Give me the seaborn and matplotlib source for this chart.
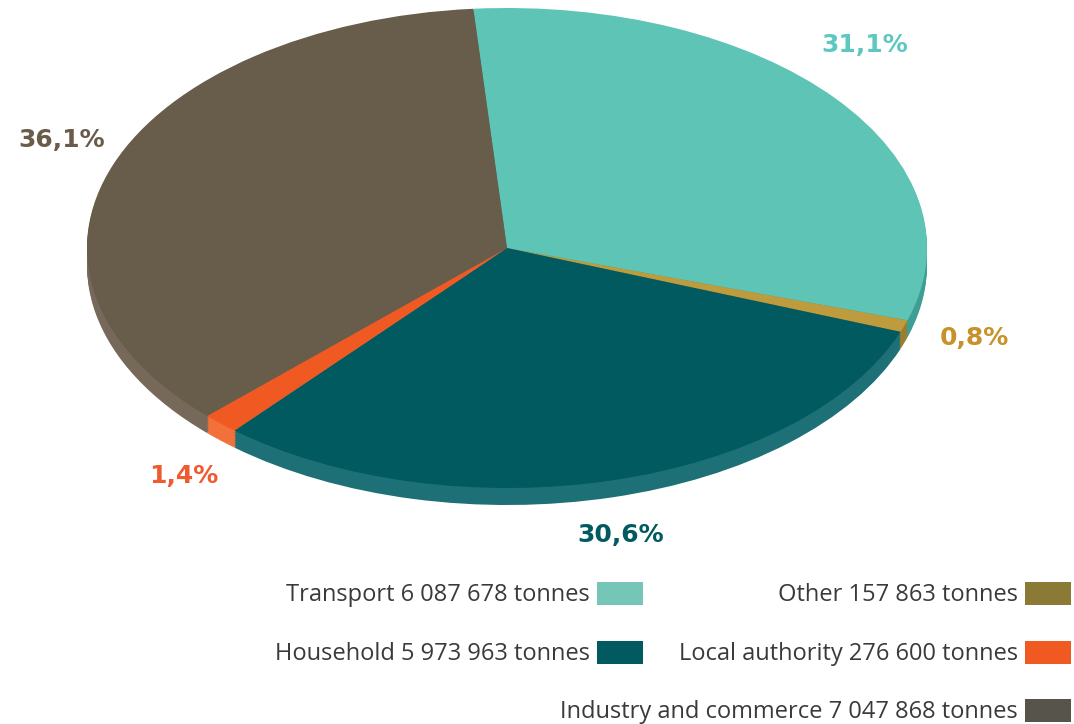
import numpy as np
import matplotlib
matplotlib.use("Agg")
import matplotlib.pyplot as plt
import seaborn as sns
from matplotlib.patches import Rectangle

sns.set_theme(style="white")
plt.rcParams['font.family'] = ['Open Sans', 'DejaVu Sans']

# ---- data ----
categories = ["Transport", "Other", "Household", "Local authority", "Industry and commerce"]
tonnes = [6087678, 157863, 5973963, 276600, 7047868]
pct_labels = ["31,1%", "0,8%", "30,6%", "1,4%", "36,1%"]
legend_labels = ["Transport 6 087 678 tonnes", "Other 157 863 tonnes",
                 "Household 5 973 963 tonnes", "Local authority 276 600 tonnes",
                 "Industry and commerce 7 047 868 tonnes"]

# ---- styles ----
top_colors = ["#5EC4B6", "#BE9B3C", "#005A60", "#F05A22", "#685C4B"]
side_colors = ["#3F9E94", "#9C7F2E", "#1D7076", "#F2713A", "#76695A"]
legend_colors = ["#76C6B8", "#8B7A35", "#005A60", "#F05A22", "#57554B"]
label_colors = ["#5EC8C0", "#C8922A", "#005A60", "#F05A30", "#6A5C4A"]
label_dist = [1.20, 1.175, 1.227, 1.224, 1.152]
label_angle_shift = [6.3, 0.3, -1.8, 4.0, -2.6]
startangle = 94.6

W, H = 1074, 724
fig = plt.figure(figsize=(W / 100, H / 100), dpi=100)

# ellipse: center (507,248) px, rx=420, ry=240, depth ~17 px
cx, cy, rx, ry = 507, 248, 420, 240
ymin = -1.12
ax = fig.add_axes([(cx - rx) / W, (H - (cy - ymin * ry)) / H, 2 * rx / W, (1 - ymin) * ry / H])

depth = 17 / ry
nsteps = 10
for k in range(nsteps, 0, -1):
    ax.pie(tonnes, colors=side_colors, startangle=startangle, counterclock=False,
           center=(0, -depth * k / nsteps), radius=1,
           wedgeprops=dict(linewidth=0))
wedges, _ = ax.pie(tonnes, colors=top_colors, startangle=startangle, counterclock=False,
                   center=(0, 0), radius=1, wedgeprops=dict(linewidth=0))
ax.set_aspect('auto')
ax.set_xlim(-1, 1)
ax.set_ylim(ymin, 1)
ax.axis('off')

for w, lab, col, d, s in zip(wedges, pct_labels, label_colors, label_dist, label_angle_shift):
    ang = np.deg2rad((w.theta1 + w.theta2) / 2 + s)
    ax.text(d * np.cos(ang), d * np.sin(ang), lab, color=col, fontsize=18,
            fontweight='bold', family='DejaVu Sans',
            ha='center', va='center', clip_on=False)

# ---- legend (text right-aligned, swatch to the right) ----
legend_pos = {  # (left edge of swatch px, row centre y px)
    0: (597, 593), 2: (597, 652),
    1: (1025, 593), 3: (1025, 652), 4: (1025, 710),
}
for i, (lab, col) in enumerate(zip(legend_labels, legend_colors)):
    x0, y0 = legend_pos[i]
    fig.text((x0 - 7) / W, 1 - (y0 + 2) / H, lab, ha='right', va='center',
             fontsize=17, color="#3A3A3A")
    fig.add_artist(Rectangle((x0 / W, 1 - (y0 + 12) / H), 46 / W, 23 / H,
                             transform=fig.transFigure, facecolor=col,
                             edgecolor='none'))

fig.savefig("out.png", dpi=100, facecolor="white")
